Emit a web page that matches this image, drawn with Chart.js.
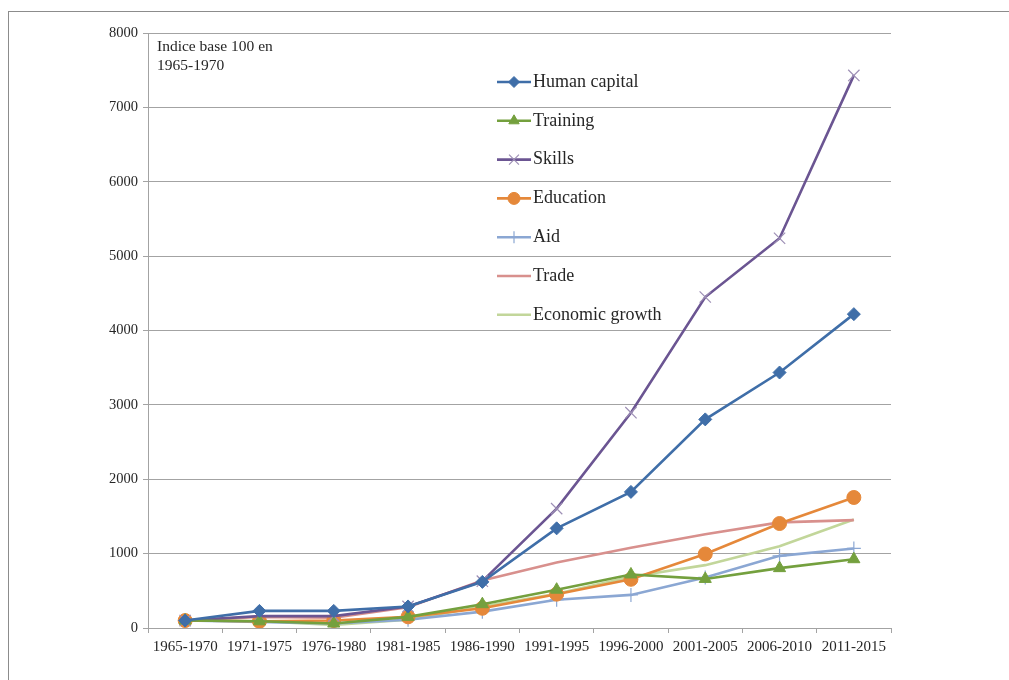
<!DOCTYPE html>
<html>
<head>
  <title>Indice base 100</title>
  <script src="https://cdn.jsdelivr.net/npm/chart.js"></script>
  <style>
    body { margin: 0; background: #fff; overflow: hidden; }
    #frame { position: absolute; left: 8px; top: 11px; width: 1200px; height: 900px;
             border-left: 1px solid #8c8c8c; border-top: 1px solid #8c8c8c; }
    #wrap { position: absolute; left: 0; top: 0; width: 1009px; height: 680px; }
  </style>
</head>
<body>
  <div id="frame"></div>
  <div id="wrap"><canvas id="chart"></canvas></div>

  <script>
    const categories = ['1965-1970', '1971-1975', '1976-1980', '1981-1985', '1986-1990',
                        '1991-1995', '1996-2000', '2001-2005', '2006-2010', '2011-2015'];
    const humanCapital = [100, 230, 230, 290, 620, 1340, 1830, 2805, 3435, 4220];
    const training     = [100, 90, 60, 150, 320, 515, 720, 660, 805, 925];
    const skills       = [100, 160, 160, 290, 630, 1605, 2895, 4450, 5240, 7430];
    const education    = [100, 90, 100, 150, 265, 455, 655, 995, 1405, 1755];
    const aid          = [100, 80, 60, 110, 220, 380, 445, 680, 970, 1070];
    const trade        = [100, 150, 140, 280, 640, 880, 1080, 1260, 1420, 1450];
    const econGrowth   = [100, 90, 40, 110, 290, 460, 690, 845, 1100, 1460];
    const yTicks = [0, 1000, 2000, 3000, 4000, 5000, 6000, 7000, 8000];
    const noteLines = ['Indice base 100 en', '1965-1970'];

    const FONT = '"Liberation Serif", "DejaVu Serif", serif';
    const TEXT = '#262626';
    const GRID = '#a3a3a3';

    function series(label, data, color, style, radius, width, markerColor, markerWidth) {
      return {
        label: label,
        data: data,
        borderColor: color,
        backgroundColor: markerColor || color,
        borderWidth: width,
        pointStyle: style,
        pointRadius: radius,
        pointHoverRadius: radius,
        pointBorderColor: markerColor || color,
        pointBackgroundColor: markerColor || color,
        pointBorderWidth: markerWidth || 1,
        tension: 0
      };
    }

    const datasets = [
      series('Human capital', humanCapital, '#3f6ea8', 'rectRot', 6.5, 2.6),
      series('Training', training, '#74a03e', 'triangle', 7, 2.6),
      series('Skills', skills, '#6b5592', 'crossRot', 8, 2.6, '#9d8fb5', 1.2),
      series('Education', education, '#e5883a', 'circle', 7, 2.6),
      series('Aid', aid, '#8ba7d3', 'cross', 7, 2.6, '#8ba7d3', 1.2),
      series('Trade', trade, '#d8908d', 'circle', 0, 2.6),
      series('Economic growth', econGrowth, '#c2d69a', 'circle', 0, 2.6)
    ];

    // legend + note drawn inside the plot
    const overlay = {
      id: 'overlay',
      afterDraw(chart) {
        const ctx = chart.ctx;
        ctx.save();
        ctx.fillStyle = TEXT;
        ctx.font = '15.5px ' + FONT;
        ctx.textAlign = 'left';
        ctx.textBaseline = 'middle';
        noteLines.forEach((t, i) => ctx.fillText(t, 157, 47 + i * 19));

        chart.data.datasets.forEach((ds, i) => {
          const y = 82 + i * 38.8;
          ctx.strokeStyle = ds.borderColor;
          ctx.lineWidth = ds.borderWidth;
          ctx.beginPath();
          ctx.moveTo(497, y);
          ctx.lineTo(531, y);
          ctx.stroke();
          if (ds.pointRadius > 0) {
            ctx.fillStyle = ds.pointBackgroundColor;
            ctx.strokeStyle = ds.pointBorderColor;
            ctx.lineWidth = ds.pointBorderWidth;
            Chart.helpers.drawPoint(ctx, {
              pointStyle: ds.pointStyle, radius: ds.pointRadius - 1, rotation: 0,
              borderWidth: ds.pointBorderWidth
            }, 514, y);
          }
          ctx.fillStyle = TEXT;
          ctx.font = '18px ' + FONT;
          ctx.fillText(ds.label, 533, y);
        });
        ctx.restore();
      }
    };

    new Chart(document.getElementById('chart'), {
      type: 'line',
      data: { labels: categories, datasets: datasets },
      plugins: [overlay],
      options: {
        responsive: true,
        maintainAspectRatio: false,
        animation: false,
        layout: { padding: { left: 0, right: 118, top: 33, bottom: 0 } },
        plugins: { legend: { display: false }, tooltip: { enabled: false } },
        scales: {
          x: {
            offset: true,
            afterFit: s => { s.height = 52; },
            grid: { offset: true, drawOnChartArea: false, drawTicks: true, tickLength: 5, color: GRID },
            border: { color: GRID },
            ticks: { color: TEXT, font: { family: FONT, size: 15 }, padding: 5, maxRotation: 0, autoSkip: false }
          },
          y: {
            min: 0,
            max: 8000,
            afterBuildTicks: s => { s.ticks = yTicks.map(v => ({ value: v })); },
            afterFit: s => { s.width = 148; },
            grid: { color: GRID, tickLength: 5, lineWidth: 1 },
            border: { color: GRID },
            ticks: { color: TEXT, font: { family: FONT, size: 14.5 }, padding: 5, callback: v => String(v) }
          }
        }
      }
    });
  </script>
</body>
</html>
